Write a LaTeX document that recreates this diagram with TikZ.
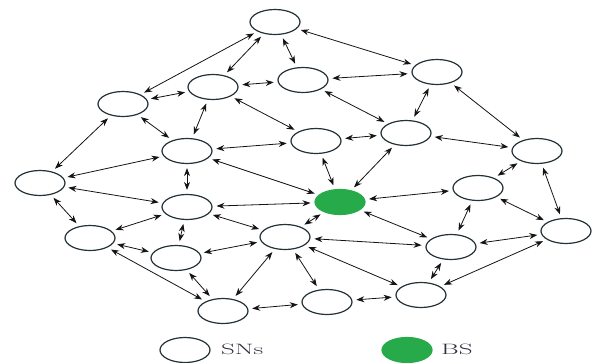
\documentclass[tikz,border=0pt]{standalone}
\usepackage{graphicx}
\usetikzlibrary{shapes.geometric,arrows.meta}
\definecolor{edgeblk}{RGB}{20,20,20}
\definecolor{nodeline}{RGB}{35,50,55}
\definecolor{bsgreen}{RGB}{38,170,74}
\definecolor{labcol}{RGB}{45,45,65}
\tikzset{
  sn/.style={ellipse, draw=nodeline, line width=1.2pt, fill=white, minimum width=50pt, minimum height=25pt, inner sep=0pt},
  bsnode/.style={sn, draw=bsgreen, fill=bsgreen},
  lnk/.style={{Stealth[length=8pt,width=6pt]}-{Stealth[length=8pt,width=6pt]}, draw=edgeblk, line width=0.8pt, shorten <=4pt, shorten >=4pt},
  lab/.style={font=\fontsize{15}{17}\selectfont, text=labcol, anchor=west, inner sep=0pt}
}
\begin{document}
\begin{tikzpicture}[x=1pt,y=-1pt]
\useasboundingbox (0,0) rectangle (592,362);
\node[sn] (A) at (275,22) {};
\node[sn] (B) at (303,80) {};
\node[sn] (C) at (213,87) {};
\node[sn] (D) at (123,104) {};
\node[sn] (E) at (437,72) {};
\node[sn] (F) at (187,151) {};
\node[sn] (G) at (316,141) {};
\node[sn] (H) at (406,133) {};
\node[sn] (I) at (537,151) {};
\node[sn] (J) at (40,183) {};
\node[sn] (K) at (187,207) {};
\node[bsnode] (BS) at (340,202) {};
\node[sn] (L) at (478,188) {};
\node[sn] (M) at (90,238) {};
\node[sn] (N) at (285,237) {};
\node[sn] (O) at (566,231) {};
\node[sn] (P) at (176,258) {};
\node[sn] (Q) at (451,247) {};
\node[sn] (R) at (223,311) {};
\node[sn] (S) at (327,302) {};
\node[sn] (T) at (421,295) {};
% legend
\node[sn] (lsn) at (185,350) {};
\node[lab] (lsntxt) at (221,349) {\scalebox{1.8}[1]{SNs}};
\node[bsnode] (lbs) at (407,350) {};
\node[lab] (lbstxt) at (441,349) {\scalebox{1.8}[1]{BS}};
% links
\foreach \u/\v in {A/D,A/C,A/B,A/E,D/C,C/B,C/G,C/F,D/F,D/J,B/E,B/H,F/G,J/F,F/BS,F/K,G/BS,H/BS,H/E,H/I,E/I,G/H,J/K,J/M,M/K,K/P,K/N,K/BS,M/P,M/R,P/N,P/R,N/R,R/S,N/BS,N/Q,N/T,N/S,S/T,BS/L,BS/Q,L/Q,L/O,I/L,I/O,Q/O,Q/T,T/O}
  \draw[lnk] (\u) -- (\v);
\end{tikzpicture}
\end{document}
